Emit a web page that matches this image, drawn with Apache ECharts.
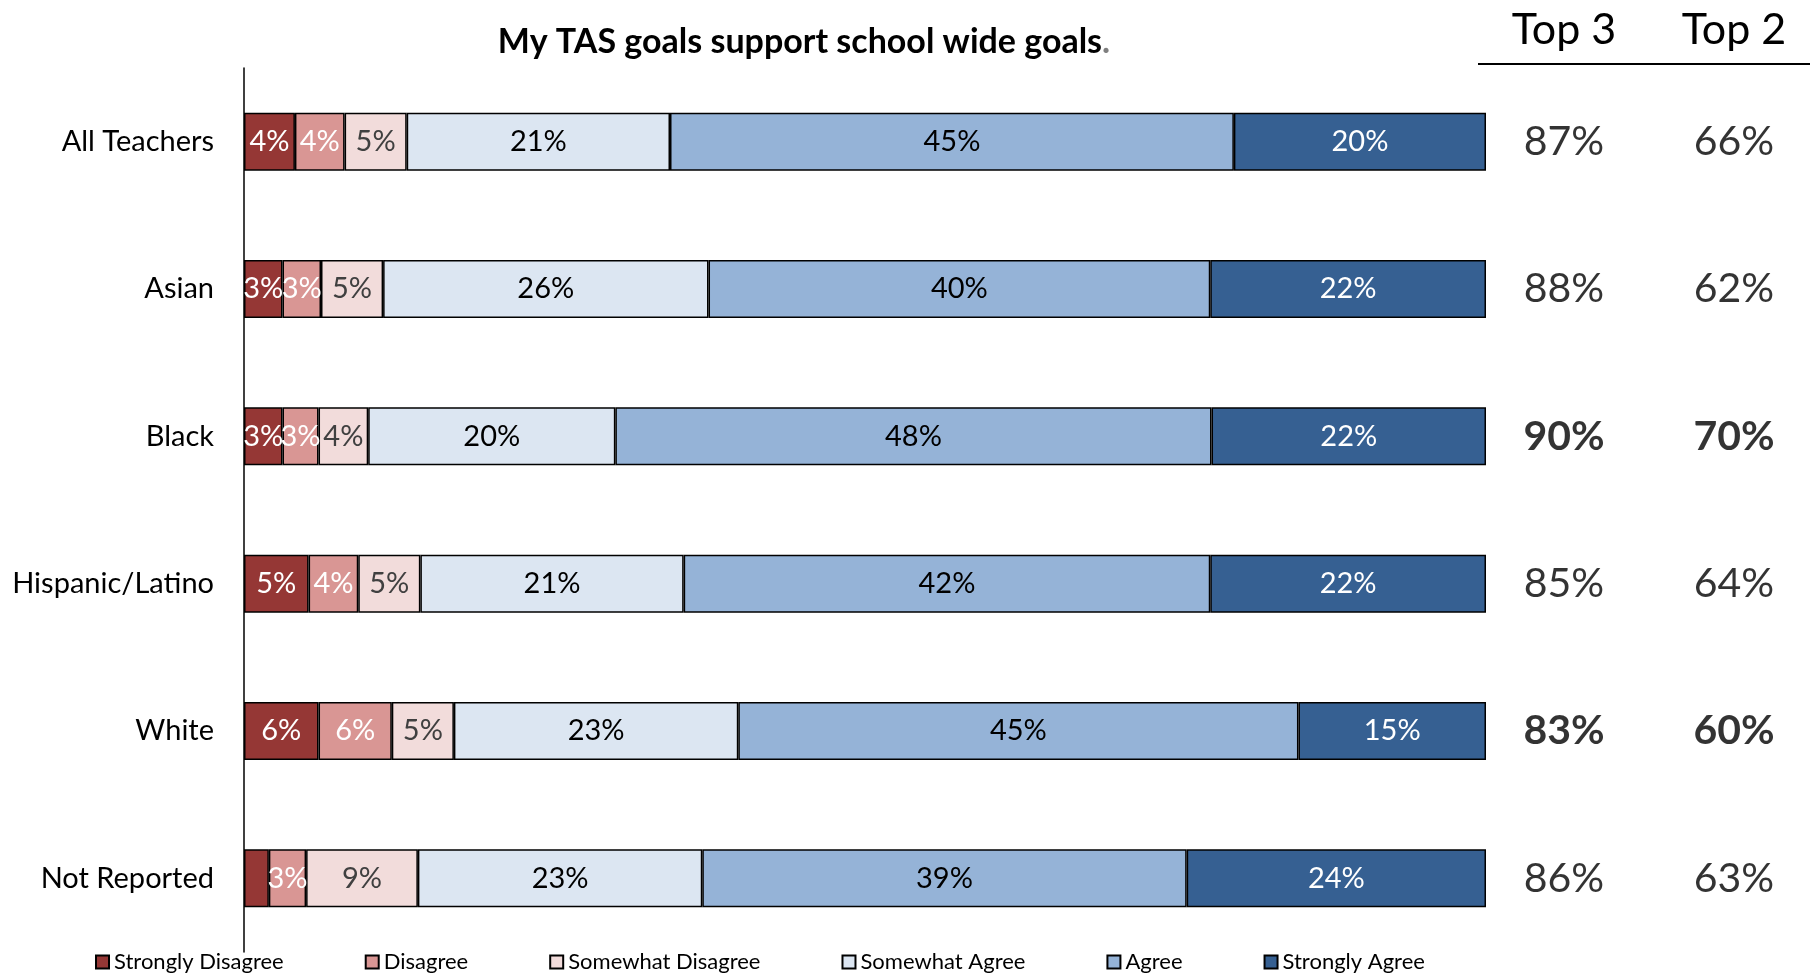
<!DOCTYPE html>
<html>
<head>
<meta charset="utf-8">
<title>My TAS goals support school wide goals.</title>
<script src="https://cdn.jsdelivr.net/npm/echarts@6/dist/echarts.min.js"></script>
<style>
  html, body { margin: 0; padding: 0; background: #ffffff; }
  #chart { width: 1810px; height: 974px; }
</style>
</head>
<body>
<div id="chart"></div>
<script>
// Survey groups (top to bottom)
const categories = ['All Teachers', 'Asian', 'Black', 'Hispanic/Latino', 'White', 'Not Reported'];

// Share of responses per group, in percent
const stronglyDisagree = [4.1, 3.1, 3.1, 5.2, 6.0, 2.0];
const disagree         = [4.0, 3.1, 2.9, 4.0, 5.9, 3.0];
const somewhatDisagree = [5.0, 5.0, 4.0, 5.0, 5.0, 9.0];
const somewhatAgree    = [21.2, 26.2, 19.9, 21.2, 22.9, 22.9];
const agree            = [45.4, 40.4, 48.0, 42.4, 45.1, 39.0];
const stronglyAgree    = [20.3, 22.2, 22.1, 22.2, 15.1, 24.1];

// Summary columns on the right
const summaryHeaders = ['Top 3', 'Top 2'];
const top3 = [87, 88, 90, 85, 83, 86];
const top2 = [66, 62, 70, 64, 60, 63];

// Groups whose summary figures are set in bold
const boldRows = ['Black', 'White'];

const FONT = 'Lato';

const segments = [
  { name: 'Strongly Disagree', data: stronglyDisagree, color: '#953735', text: '#ffffff' },
  { name: 'Disagree',          data: disagree,         color: '#d99694', text: '#ffffff' },
  { name: 'Somewhat Disagree', data: somewhatDisagree, color: '#f2dcdb', text: '#404040' },
  { name: 'Somewhat Agree',    data: somewhatAgree,    color: '#dce6f2', text: '#000000' },
  { name: 'Agree',             data: agree,            color: '#95b3d7', text: '#000000' },
  { name: 'Strongly Agree',    data: stronglyAgree,    color: '#366092', text: '#ffffff' }
];

const barSeries = segments.map(s => ({
  name: s.name,
  type: 'bar',
  stack: 'total',
  xAxisIndex: 0,
  yAxisIndex: 0,
  barWidth: 58,
  data: s.data,
  itemStyle: { color: s.color, borderColor: '#000000', borderWidth: 1.5 },
  label: {
    show: true,
    position: 'inside',
    color: s.text,
    fontFamily: FONT,
    fontSize: 29,
    formatter: p => (p.value < 2.5 ? '' : Math.round(p.value) + '%')
  },
  emphasis: { disabled: true },
  silent: true
}));

function summarySeries(header, values) {
  return {
    type: 'scatter',
    xAxisIndex: 1,
    yAxisIndex: 1,
    symbolSize: 1,
    itemStyle: { color: 'rgba(0,0,0,0)' },
    silent: true,
    data: values.map((v, i) => ({
      value: [header, categories[i], v],
      label: { fontWeight: boldRows.includes(categories[i]) ? 'bold' : 'normal' }
    })),
    label: {
      show: true,
      position: 'inside',
      color: '#000000',
      fontFamily: FONT,
      fontSize: 41,
      formatter: p => p.value[2] + '%'
    }
  };
}

const chart = echarts.init(document.getElementById('chart'), null, { renderer: 'canvas' });

chart.setOption({
  animation: false,
  backgroundColor: '#ffffff',
  title: {
    text: '{a|My TAS goals support school wide goals}{b|.}',
    left: 799,
    top: 20,
    textAlign: 'center',
    textStyle: {
      rich: {
        a: { fontFamily: FONT, fontSize: 34, fontWeight: 'bold', color: '#000000' },
        b: { fontFamily: FONT, fontSize: 34, fontWeight: 'bold', color: '#7f7f7f' }
      }
    }
  },
  legend: {
    data: segments.map(s => s.name),
    left: 90,
    top: 946,
    itemWidth: 13,
    itemHeight: 13,
    itemGap: 81,
    icon: 'rect',
    textStyle: { fontFamily: FONT, fontSize: 22, color: '#000000' },
    selectedMode: false
  },
  // rule under the summary column headers
  graphic: [{
    type: 'line',
    silent: true,
    shape: { x1: 1478, y1: 64, x2: 1810, y2: 64 },
    style: { stroke: '#000000', lineWidth: 2 }
  }],
  grid: [
    { left: 244, top: 68, width: 1242, height: 884 },
    { left: 1564, top: 68, width: 170, height: 884 }
  ],
  xAxis: [
    { type: 'value', gridIndex: 0, min: 0, max: 100, show: false },
    {
      type: 'category',
      gridIndex: 1,
      position: 'top',
      offset: 4,
      boundaryGap: false,
      data: summaryHeaders,
      axisLine: { show: false },
      axisTick: { show: false },
      splitLine: { show: false },
      axisLabel: { fontFamily: FONT, fontSize: 43, color: '#000000', margin: 12 }
    }
  ],
  yAxis: [
    {
      type: 'category',
      gridIndex: 0,
      inverse: true,
      data: categories,
      axisLine: { show: true, lineStyle: { color: '#000000', width: 1.5 } },
      axisTick: { show: false },
      splitLine: { show: false },
      axisLabel: { fontFamily: FONT, fontSize: 29, color: '#000000', margin: 30 }
    },
    {
      type: 'category',
      gridIndex: 1,
      inverse: true,
      data: categories,
      show: false
    }
  ],
  series: [
    ...barSeries,
    summarySeries(summaryHeaders[0], top3),
    summarySeries(summaryHeaders[1], top2)
  ]
});
</script>
</body>
</html>
